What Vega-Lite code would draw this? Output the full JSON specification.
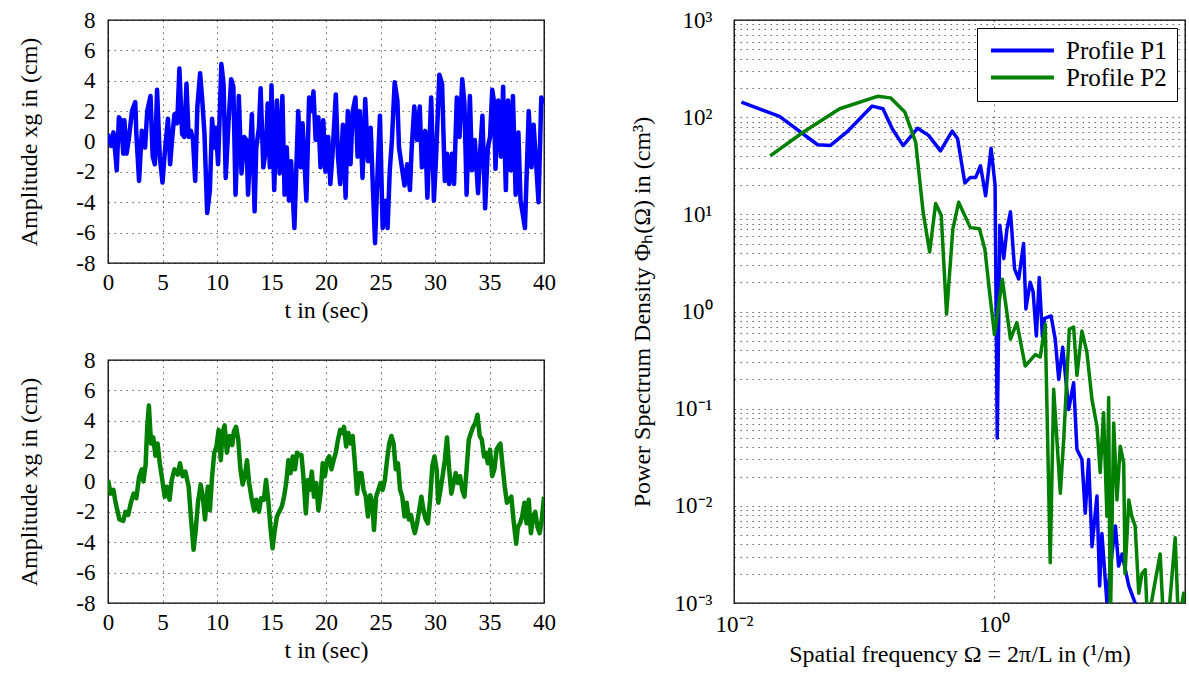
{
 "$schema": "https://vega.github.io/schema/vega-lite/v6.json",
 "background": "white",
 "padding": {"left": 17, "top": 8, "right": 4, "bottom": 4},
 "config": {
  "font": "Liberation Serif",
  "view": {"stroke": "black", "strokeWidth": 1.3},
  "axis": {"labelFont": "Liberation Serif", "titleFont": "Liberation Serif", "labelFontSize": 23, "titleFontSize": 24, "labelColor": "black", "titleColor": "black", "titleFontWeight": "normal", "domain": false, "ticks": false, "grid": true, "gridColor": "#000", "gridOpacity": 0.6, "gridDash": [1.5, 4.5], "gridWidth": 1, "labelFlush": false, "labelOverlap": false},
  "legend": {"labelFont": "Liberation Serif", "labelFontSize": 25, "labelColor": "black", "strokeColor": "black", "fillColor": "white", "padding": 10, "labelOffset": 31, "offset": 8, "rowPadding": 1, "symbolType": "M-3,0H3", "symbolSize": 441, "symbolOffset": 23, "symbolStrokeWidth": 4}
 },
 "resolve": {"legend": {"color": "independent"}},
 "datasets": {
  "p1": [
   {"t":0,"v":0.5},{"t":0.3,"v":-0.3},{"t":0.5,"v":0.6},{"t":0.7,"v":-1.0},{"t":0.8,"v":-1.9},{"t":1.0,"v":1.6},{"t":1.2,"v":1.4},{"t":1.4,"v":-0.8},{"t":1.5,"v":1.4},{"t":1.7,"v":-0.8},{"t":1.9,"v":0.1},{"t":2.2,"v":2.0},{"t":2.5,"v":2.6},{"t":2.6,"v":0.5},{"t":2.85,"v":-2.6},{"t":3.1,"v":0.7},{"t":3.4,"v":-0.4},{"t":3.6,"v":2.0},{"t":3.9,"v":3.0},{"t":4.1,"v":-1.0},{"t":4.3,"v":-1.5},{"t":4.5,"v":3.4},{"t":4.75,"v":-1.0},{"t":5.0,"v":-2.7},{"t":5.2,"v":-0.8},{"t":5.5,"v":1.5},{"t":5.7,"v":-1.5},{"t":5.9,"v":0.3},{"t":6.1,"v":1.8},{"t":6.35,"v":1.2},{"t":6.55,"v":4.8},{"t":6.8,"v":0.5},{"t":7.0,"v":0.3},{"t":7.2,"v":3.8},{"t":7.4,"v":0.3},{"t":7.6,"v":0.7},{"t":7.8,"v":0.1},{"t":8.0,"v":-2.6},{"t":8.2,"v":2.3},{"t":8.45,"v":4.5},{"t":8.65,"v":2.7},{"t":8.85,"v":0.5},{"t":9.1,"v":-4.7},{"t":9.35,"v":-3.2},{"t":9.55,"v":1.5},{"t":9.75,"v":-0.4},{"t":9.9,"v":0.9},{"t":10.1,"v":-1.5},{"t":10.4,"v":5.1},{"t":10.6,"v":3.8},{"t":10.8,"v":-2.4},{"t":11.05,"v":1.2},{"t":11.3,"v":4.1},{"t":11.5,"v":3.6},{"t":11.7,"v":-3.5},{"t":11.9,"v":0.3},{"t":12.0,"v":3.0},{"t":12.25,"v":-2.1},{"t":12.5,"v":0.3},{"t":12.7,"v":0.1},{"t":12.85,"v":-3.5},{"t":13.2,"v":1.8},{"t":13.45,"v":-4.6},{"t":13.6,"v":-0.4},{"t":13.85,"v":0.9},{"t":14.0,"v":3.5},{"t":14.25,"v":-1.7},{"t":14.5,"v":-0.4},{"t":14.65,"v":2.5},{"t":14.85,"v":-1.7},{"t":15.0,"v":3.7},{"t":15.25,"v":-3.2},{"t":15.5,"v":2.7},{"t":15.75,"v":-2.1},{"t":16.0,"v":3.0},{"t":16.2,"v":-3.5},{"t":16.4,"v":-0.4},{"t":16.6,"v":-3.9},{"t":16.8,"v":-1.3},{"t":17.1,"v":-5.7},{"t":17.45,"v":2.0},{"t":17.7,"v":-1.7},{"t":17.85,"v":1.2},{"t":18.2,"v":-3.9},{"t":18.45,"v":2.9},{"t":18.65,"v":2.0},{"t":18.85,"v":3.3},{"t":19.05,"v":0.1},{"t":19.3,"v":1.6},{"t":19.5,"v":-1.7},{"t":19.75,"v":1.4},{"t":19.95,"v":-2.0},{"t":20.2,"v":0.3},{"t":20.4,"v":-2.8},{"t":20.6,"v":-0.8},{"t":20.9,"v":3.1},{"t":21.1,"v":-1.0},{"t":21.3,"v":-2.8},{"t":21.55,"v":1.1},{"t":21.8,"v":-3.7},{"t":22.0,"v":2.0},{"t":22.25,"v":-1.5},{"t":22.45,"v":2.0},{"t":22.7,"v":2.9},{"t":22.9,"v":-1.0},{"t":23.1,"v":2.0},{"t":23.35,"v":-2.4},{"t":23.6,"v":2.8},{"t":23.85,"v":-1.3},{"t":24.1,"v":0.9},{"t":24.3,"v":-3.0},{"t":24.5,"v":-6.7},{"t":24.75,"v":-1.7},{"t":24.95,"v":1.7},{"t":25.2,"v":-5.7},{"t":25.5,"v":-3.9},{"t":25.65,"v":-5.7},{"t":25.85,"v":-1.9},{"t":26.05,"v":0.1},{"t":26.3,"v":3.9},{"t":26.55,"v":2.7},{"t":26.7,"v":-0.4},{"t":27.0,"v":-1.9},{"t":27.2,"v":-2.9},{"t":27.45,"v":-1.5},{"t":27.7,"v":-3.2},{"t":27.85,"v":-0.6},{"t":28.1,"v":2.3},{"t":28.35,"v":0.1},{"t":28.6,"v":2.3},{"t":28.8,"v":-1.7},{"t":29.1,"v":0.7},{"t":29.3,"v":-3.7},{"t":29.65,"v":2.9},{"t":29.9,"v":-3.9},{"t":30.1,"v":-1.0},{"t":30.4,"v":4.4},{"t":30.65,"v":3.8},{"t":30.9,"v":-2.6},{"t":31.1,"v":-0.8},{"t":31.3,"v":-2.8},{"t":31.55,"v":-0.8},{"t":31.75,"v":-2.8},{"t":32.0,"v":2.9},{"t":32.25,"v":0.3},{"t":32.5,"v":4.1},{"t":32.7,"v":2.5},{"t":32.9,"v":-3.5},{"t":33.2,"v":3.0},{"t":33.4,"v":-1.9},{"t":33.65,"v":0.1},{"t":33.95,"v":-3.4},{"t":34.15,"v":-0.6},{"t":34.35,"v":1.7},{"t":34.6,"v":-4.4},{"t":34.85,"v":-0.4},{"t":35.05,"v":0.3},{"t":35.25,"v":3.4},{"t":35.4,"v":2.7},{"t":35.55,"v":-1.8},{"t":35.8,"v":2.7},{"t":36.05,"v":-1.0},{"t":36.25,"v":3.6},{"t":36.5,"v":-3.2},{"t":36.7,"v":2.7},{"t":36.95,"v":-1.9},{"t":37.15,"v":3.0},{"t":37.4,"v":-3.5},{"t":37.65,"v":0.6},{"t":37.85,"v":-3.9},{"t":38.1,"v":-5.0},{"t":38.25,"v":-5.7},{"t":38.6,"v":2.0},{"t":38.85,"v":-1.7},{"t":39.05,"v":1.1},{"t":39.3,"v":-1.7},{"t":39.5,"v":-4.0},{"t":39.75,"v":2.9},{"t":40.0,"v":2.5}
  ],
  "p2": [
   {"t":0,"v":0.1},{"t":0.25,"v":-0.8},{"t":0.5,"v":-0.55},{"t":0.7,"v":-1.4},{"t":1.05,"v":-2.5},{"t":1.4,"v":-2.6},{"t":1.6,"v":-2.0},{"t":1.85,"v":-2.2},{"t":2.1,"v":-1.4},{"t":2.35,"v":-0.8},{"t":2.6,"v":-1.1},{"t":2.85,"v":0.3},{"t":3.1,"v":0.8},{"t":3.25,"v":0.0},{"t":3.45,"v":1.1},{"t":3.6,"v":3.6},{"t":3.75,"v":5.0},{"t":3.95,"v":2.5},{"t":4.15,"v":2.9},{"t":4.35,"v":1.7},{"t":4.55,"v":2.5},{"t":4.75,"v":1.2},{"t":5.0,"v":0.0},{"t":5.2,"v":-1.0},{"t":5.4,"v":-0.35},{"t":5.65,"v":-1.2},{"t":5.85,"v":0.1},{"t":6.1,"v":0.8},{"t":6.4,"v":0.45},{"t":6.6,"v":1.2},{"t":6.85,"v":0.35},{"t":7.1,"v":0.65},{"t":7.4,"v":-0.35},{"t":7.6,"v":-2.3},{"t":7.85,"v":-4.5},{"t":8.05,"v":-3.2},{"t":8.25,"v":-1.4},{"t":8.5,"v":-0.2},{"t":8.7,"v":-1.0},{"t":8.9,"v":-2.5},{"t":9.15,"v":-0.35},{"t":9.35,"v":-1.9},{"t":9.55,"v":0.35},{"t":9.75,"v":1.9},{"t":9.95,"v":2.3},{"t":10.15,"v":3.4},{"t":10.35,"v":1.4},{"t":10.5,"v":3.2},{"t":10.7,"v":3.7},{"t":10.9,"v":1.9},{"t":11.15,"v":3.0},{"t":11.4,"v":2.4},{"t":11.55,"v":3.3},{"t":11.75,"v":3.6},{"t":11.95,"v":2.75},{"t":12.15,"v":0.8},{"t":12.35,"v":-0.2},{"t":12.55,"v":0.35},{"t":12.75,"v":1.4},{"t":12.95,"v":-0.1},{"t":13.15,"v":-1.0},{"t":13.4,"v":-1.9},{"t":13.6,"v":-1.2},{"t":13.85,"v":-2.0},{"t":14.05,"v":-1.1},{"t":14.3,"v":-1.2},{"t":14.5,"v":0.1},{"t":14.7,"v":-1.2},{"t":14.9,"v":-3.0},{"t":15.1,"v":-4.4},{"t":15.3,"v":-3.2},{"t":15.5,"v":-2.3},{"t":15.7,"v":-2.0},{"t":15.95,"v":-1.65},{"t":16.15,"v":-1.0},{"t":16.35,"v":-0.1},{"t":16.55,"v":1.4},{"t":16.75,"v":0.55},{"t":16.95,"v":1.65},{"t":17.15,"v":0.8},{"t":17.35,"v":1.9},{"t":17.55,"v":1.75},{"t":17.75,"v":1.75},{"t":17.95,"v":0.1},{"t":18.15,"v":-2.1},{"t":18.35,"v":0.1},{"t":18.5,"v":-0.55},{"t":18.7,"v":0.65},{"t":18.9,"v":-1.0},{"t":19.1,"v":-0.1},{"t":19.3,"v":-1.9},{"t":19.5,"v":-0.8},{"t":19.7,"v":1.2},{"t":19.9,"v":0.35},{"t":20.1,"v":1.4},{"t":20.3,"v":1.65},{"t":20.5,"v":0.8},{"t":20.7,"v":1.4},{"t":20.9,"v":1.9},{"t":21.1,"v":2.75},{"t":21.3,"v":3.4},{"t":21.5,"v":3.2},{"t":21.65,"v":3.6},{"t":21.85,"v":2.3},{"t":22.05,"v":3.2},{"t":22.25,"v":2.5},{"t":22.45,"v":3.0},{"t":22.65,"v":1.2},{"t":22.85,"v":-0.8},{"t":23.05,"v":0.55},{"t":23.25,"v":0.55},{"t":23.45,"v":-0.55},{"t":23.65,"v":-1.0},{"t":23.85,"v":-2.3},{"t":24.05,"v":-0.9},{"t":24.25,"v":-1.4},{"t":24.4,"v":-3.2},{"t":24.6,"v":-1.0},{"t":24.8,"v":-0.55},{"t":25.0,"v":-0.1},{"t":25.2,"v":-0.55},{"t":25.4,"v":0.1},{"t":25.6,"v":1.4},{"t":25.8,"v":2.5},{"t":26.0,"v":3.0},{"t":26.2,"v":2.5},{"t":26.4,"v":0.8},{"t":26.6,"v":1.2},{"t":26.8,"v":-0.55},{"t":27.0,"v":-1.0},{"t":27.2,"v":-2.3},{"t":27.4,"v":-1.4},{"t":27.6,"v":-2.5},{"t":27.8,"v":-2.2},{"t":28.0,"v":-3.0},{"t":28.15,"v":-3.4},{"t":28.35,"v":-2.75},{"t":28.55,"v":-1.9},{"t":28.75,"v":-1.0},{"t":28.95,"v":-1.9},{"t":29.15,"v":-2.5},{"t":29.35,"v":-2.75},{"t":29.55,"v":-1.2},{"t":29.75,"v":1.0},{"t":29.95,"v":1.65},{"t":30.15,"v":0.8},{"t":30.3,"v":-1.4},{"t":30.5,"v":-0.55},{"t":30.7,"v":0.35},{"t":30.9,"v":1.4},{"t":31.1,"v":2.9},{"t":31.3,"v":0.8},{"t":31.5,"v":-0.8},{"t":31.7,"v":-0.1},{"t":31.9,"v":0.55},{"t":32.1,"v":-0.1},{"t":32.3,"v":0.35},{"t":32.5,"v":-0.55},{"t":32.7,"v":-1.0},{"t":32.9,"v":0.8},{"t":33.1,"v":2.75},{"t":33.3,"v":3.2},{"t":33.5,"v":3.6},{"t":33.7,"v":3.85},{"t":33.9,"v":4.4},{"t":34.1,"v":3.0},{"t":34.3,"v":2.75},{"t":34.5,"v":1.65},{"t":34.65,"v":1.9},{"t":34.85,"v":1.2},{"t":35.05,"v":2.1},{"t":35.25,"v":0.35},{"t":35.45,"v":0.8},{"t":35.65,"v":2.1},{"t":35.8,"v":2.3},{"t":36.0,"v":2.5},{"t":36.2,"v":1.0},{"t":36.4,"v":-0.35},{"t":36.6,"v":-1.4},{"t":36.8,"v":-1.2},{"t":37.0,"v":-1.0},{"t":37.2,"v":-2.5},{"t":37.45,"v":-4.1},{"t":37.6,"v":-3.0},{"t":37.8,"v":-2.75},{"t":38.0,"v":-2.3},{"t":38.2,"v":-1.4},{"t":38.4,"v":-2.75},{"t":38.6,"v":-1.2},{"t":38.8,"v":-3.4},{"t":39.0,"v":-2.3},{"t":39.2,"v":-2.0},{"t":39.4,"v":-3.0},{"t":39.6,"v":-3.4},{"t":39.8,"v":-2.5},{"t":40.0,"v":-1.0}
  ],
  "psd": [
   {"profile":"Profile P1","omega":0.0114,"psd":143},{"profile":"Profile P1","omega":0.0224,"psd":102},{"profile":"Profile P1","omega":0.044,"psd":52},{"profile":"Profile P1","omega":0.055,"psd":51},{"profile":"Profile P1","omega":0.0736,"psd":70},{"profile":"Profile P1","omega":0.1156,"psd":130},{"profile":"Profile P1","omega":0.14,"psd":122},{"profile":"Profile P1","omega":0.165,"psd":76},{"profile":"Profile P1","omega":0.2,"psd":51},{"profile":"Profile P1","omega":0.259,"psd":77},{"profile":"Profile P1","omega":0.314,"psd":65},{"profile":"Profile P1","omega":0.388,"psd":45},{"profile":"Profile P1","omega":0.477,"psd":72},{"profile":"Profile P1","omega":0.525,"psd":60},{"profile":"Profile P1","omega":0.597,"psd":21},{"profile":"Profile P1","omega":0.658,"psd":24},{"profile":"Profile P1","omega":0.724,"psd":24},{"profile":"Profile P1","omega":0.788,"psd":31.6},{"profile":"Profile P1","omega":0.863,"psd":15.5},{"profile":"Profile P1","omega":0.95,"psd":48},{"profile":"Profile P1","omega":1.02,"psd":20},{"profile":"Profile P1","omega":1.06,"psd":0.05},{"profile":"Profile P1","omega":1.11,"psd":7.7},{"profile":"Profile P1","omega":1.19,"psd":3.5},{"profile":"Profile P1","omega":1.26,"psd":7.1},{"profile":"Profile P1","omega":1.34,"psd":10.6},{"profile":"Profile P1","omega":1.44,"psd":2.75},{"profile":"Profile P1","omega":1.55,"psd":2.16},{"profile":"Profile P1","omega":1.69,"psd":5.0},{"profile":"Profile P1","omega":1.76,"psd":1.06},{"profile":"Profile P1","omega":1.9,"psd":2.0},{"profile":"Profile P1","omega":2.0,"psd":1.6},{"profile":"Profile P1","omega":2.12,"psd":0.56},{"profile":"Profile P1","omega":2.23,"psd":2.24},{"profile":"Profile P1","omega":2.36,"psd":0.55},{"profile":"Profile P1","omega":2.45,"psd":0.85},{"profile":"Profile P1","omega":2.75,"psd":0.9},{"profile":"Profile P1","omega":2.96,"psd":0.52},{"profile":"Profile P1","omega":3.15,"psd":0.2},{"profile":"Profile P1","omega":3.38,"psd":0.43},{"profile":"Profile P1","omega":3.76,"psd":0.098},{"profile":"Profile P1","omega":4.1,"psd":0.185},{"profile":"Profile P1","omega":4.35,"psd":0.038},{"profile":"Profile P1","omega":4.75,"psd":0.03},{"profile":"Profile P1","omega":5.04,"psd":0.0084},{"profile":"Profile P1","omega":5.35,"psd":0.03},{"profile":"Profile P1","omega":5.68,"psd":0.0038},{"profile":"Profile P1","omega":6.2,"psd":0.0126},{"profile":"Profile P1","omega":6.5,"psd":0.0015},{"profile":"Profile P1","omega":6.77,"psd":0.0052},{"profile":"Profile P1","omega":7.4,"psd":0.001},{"profile":"Profile P1","omega":7.9,"psd":0.0025},{"profile":"Profile P1","omega":8.6,"psd":0.0062},{"profile":"Profile P1","omega":9.1,"psd":0.0024},{"profile":"Profile P1","omega":9.67,"psd":0.0032},{"profile":"Profile P1","omega":10.9,"psd":0.0015},{"profile":"Profile P1","omega":12.2,"psd":0.001},{"profile":"Profile P1","omega":12.6,"psd":0.0005},
   {"profile":"Profile P2","omega":0.019,"psd":40},{"profile":"Profile P2","omega":0.034,"psd":70},{"profile":"Profile P2","omega":0.065,"psd":122},{"profile":"Profile P2","omega":0.127,"psd":164},{"profile":"Profile P2","omega":0.16,"psd":158},{"profile":"Profile P2","omega":0.206,"psd":113},{"profile":"Profile P2","omega":0.25,"psd":55},{"profile":"Profile P2","omega":0.285,"psd":10.6},{"profile":"Profile P2","omega":0.32,"psd":4.1},{"profile":"Profile P2","omega":0.356,"psd":12.9},{"profile":"Profile P2","omega":0.393,"psd":9.8},{"profile":"Profile P2","omega":0.432,"psd":0.94},{"profile":"Profile P2","omega":0.483,"psd":7.1},{"profile":"Profile P2","omega":0.535,"psd":13.3},{"profile":"Profile P2","omega":0.658,"psd":7.3},{"profile":"Profile P2","omega":0.773,"psd":7.1},{"profile":"Profile P2","omega":0.851,"psd":4.4},{"profile":"Profile P2","omega":0.938,"psd":1.34},{"profile":"Profile P2","omega":1.01,"psd":0.58},{"profile":"Profile P2","omega":1.16,"psd":2.15},{"profile":"Profile P2","omega":1.34,"psd":0.52},{"profile":"Profile P2","omega":1.5,"psd":0.77},{"profile":"Profile P2","omega":1.74,"psd":0.275},{"profile":"Profile P2","omega":2.08,"psd":0.36},{"profile":"Profile P2","omega":2.27,"psd":0.34},{"profile":"Profile P2","omega":2.48,"psd":0.74},{"profile":"Profile P2","omega":2.71,"psd":0.0026},{"profile":"Profile P2","omega":2.88,"psd":0.158},{"profile":"Profile P2","omega":3.24,"psd":0.0135},{"profile":"Profile P2","omega":3.44,"psd":0.048},{"profile":"Profile P2","omega":3.8,"psd":0.66},{"profile":"Profile P2","omega":4.1,"psd":0.69},{"profile":"Profile P2","omega":4.35,"psd":0.22},{"profile":"Profile P2","omega":4.75,"psd":0.63},{"profile":"Profile P2","omega":5.19,"psd":0.38},{"profile":"Profile P2","omega":5.68,"psd":0.124},{"profile":"Profile P2","omega":6.2,"psd":0.066},{"profile":"Profile P2","omega":6.57,"psd":0.022},{"profile":"Profile P2","omega":6.97,"psd":0.091},{"profile":"Profile P2","omega":7.4,"psd":0.0078},{"profile":"Profile P2","omega":7.63,"psd":0.13},{"profile":"Profile P2","omega":7.85,"psd":0.0005},{"profile":"Profile P2","omega":8.34,"psd":0.071},{"profile":"Profile P2","omega":8.84,"psd":0.0115},{"profile":"Profile P2","omega":9.37,"psd":0.041},{"profile":"Profile P2","omega":9.96,"psd":0.0275},{"profile":"Profile P2","omega":10.2,"psd":0.002},{"profile":"Profile P2","omega":10.9,"psd":0.0115},{"profile":"Profile P2","omega":11.5,"psd":0.0078},{"profile":"Profile P2","omega":12.2,"psd":0.0062},{"profile":"Profile P2","omega":13,"psd":0.00126},{"profile":"Profile P2","omega":13.75,"psd":0.002},{"profile":"Profile P2","omega":14.6,"psd":0.0022},{"profile":"Profile P2","omega":15.2,"psd":0.0006},{"profile":"Profile P2","omega":16.9,"psd":0.00135},{"profile":"Profile P2","omega":19,"psd":0.0032},{"profile":"Profile P2","omega":20.2,"psd":0.0006},{"profile":"Profile P2","omega":22,"psd":0.0007},{"profile":"Profile P2","omega":24.8,"psd":0.0047},{"profile":"Profile P2","omega":26.3,"psd":0.0006},{"profile":"Profile P2","omega":28.8,"psd":0.00126},{"profile":"Profile P2","omega":29.5,"psd":0.0008}
  ]
 },
 "spacing": 72,
 "hconcat": [
  {
   "spacing": 97,
   "bounds": "flush",
   "vconcat": [
    {
     "width": 436, "height": 243,
     "data": {"name": "p1"},
     "mark": {"type": "line", "color": "#0000ff", "strokeWidth": 4.5, "strokeJoin": "round", "clip": true},
     "encoding": {
      "x": {"field": "t", "type": "quantitative", "scale": {"domain": [0, 40], "nice": false}, "axis": {"values": [0,5,10,15,20,25,30,35,40], "title": "t in (sec)", "labelPadding": 8, "titlePadding": 4}},
      "y": {"field": "v", "type": "quantitative", "scale": {"domain": [-8, 8], "nice": false}, "axis": {"values": [-8,-6,-4,-2,0,2,4,6,8], "labelExpr": "'' + datum.value", "title": "Amplitude xg in (cm)", "labelPadding": 13, "titlePadding": 34}}
     }
    },
    {
     "width": 436, "height": 243,
     "data": {"name": "p2"},
     "mark": {"type": "line", "color": "#008000", "strokeWidth": 4.5, "strokeJoin": "round", "clip": true},
     "encoding": {
      "x": {"field": "t", "type": "quantitative", "scale": {"domain": [0, 40], "nice": false}, "axis": {"values": [0,5,10,15,20,25,30,35,40], "title": "t in (sec)", "labelPadding": 8, "titlePadding": 4}},
      "y": {"field": "v", "type": "quantitative", "scale": {"domain": [-8, 8], "nice": false}, "axis": {"values": [-8,-6,-4,-2,0,2,4,6,8], "labelExpr": "'' + datum.value", "title": "Amplitude xg in (cm)", "labelPadding": 13, "titlePadding": 34}}
     }
    }
   ]
  },
  {
   "width": 451, "height": 583,
   "data": {"name": "psd"},
   "mark": {"type": "line", "strokeWidth": 3.5, "strokeJoin": "round", "clip": true},
   "encoding": {
    "x": {"field": "omega", "type": "quantitative", "scale": {"type": "log", "domain": [0.01, 29.5], "nice": false}, "axis": {"values": [0.01, 1], "labelExpr": "datum.value == 1 ? '10⁰' : '10⁻²'", "title": "Spatial frequency Ω = 2π/L in (¹/m)", "labelPadding": 10, "titlePadding": 6}},
    "y": {"field": "psd", "type": "quantitative", "scale": {"type": "log", "domain": [0.001, 1000], "nice": false}, "axis": {"values": [0.001,0.002,0.003,0.004,0.005,0.006,0.007,0.008,0.009,0.01,0.02,0.03,0.04,0.05,0.06,0.07,0.08,0.09,0.1,0.2,0.3,0.4,0.5,0.6,0.7,0.8,0.9,1,2,3,4,5,6,7,8,9,10,20,30,40,50,60,70,80,90,100,200,300,400,500,600,700,800,900,1000], "labelExpr": "datum.value == 1000 ? '10³' : datum.value == 100 ? '10²' : datum.value == 10 ? '10¹' : datum.value == 1 ? '10⁰' : datum.value == 0.1 ? '10⁻¹' : datum.value == 0.01 ? '10⁻²' : datum.value == 0.001 ? '10⁻³' : ''", "title": "Power Spectrum Density Φₕ(Ω) in (cm³)", "labelPadding": 22, "titlePadding": 20}},
    "color": {"field": "profile", "type": "nominal", "scale": {"domain": ["Profile P1", "Profile P2"], "range": ["#0000ff", "#008000"]}, "legend": {"orient": "top-right", "title": null, "labelExpr": "datum.label + '\u00a0\u00a0'"}}
   }
  }
 ]
}
